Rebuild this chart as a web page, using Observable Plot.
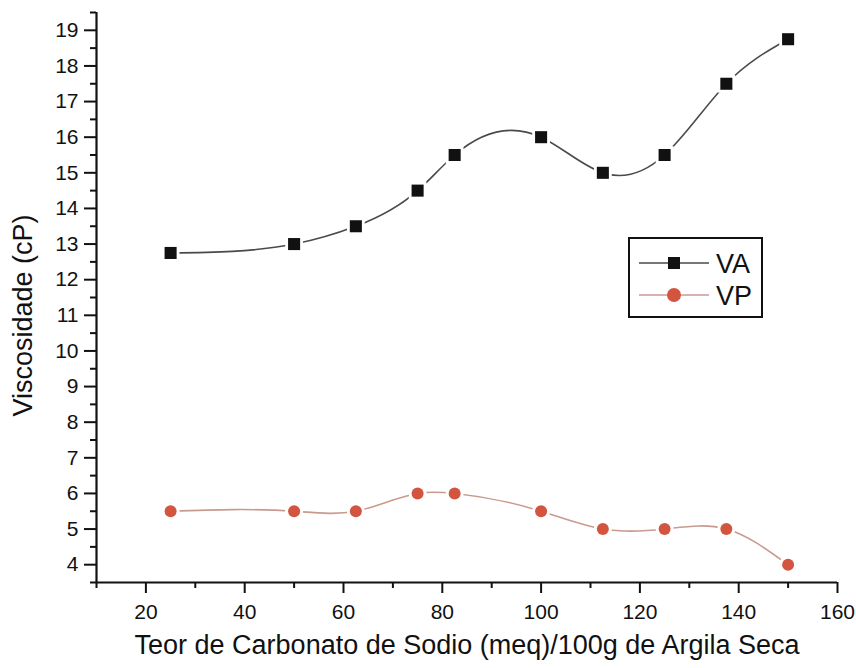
<!DOCTYPE html>
<html>
<head>
<meta charset="utf-8">
<script src="https://cdn.jsdelivr.net/npm/d3@7"></script>
<script src="https://cdn.jsdelivr.net/npm/@observablehq/plot@0.6"></script>
<style>
  html, body { margin: 0; padding: 0; background: #fff; }
  #wrap { position: relative; width: 856px; height: 668px; font-family: "Liberation Sans", Arial, sans-serif; }
  #legend { position: absolute; left: 628px; top: 237px; width: 131px; height: 77px; border: 2px solid #111; background: #fff; }
  #legend svg { display: block; }
</style>
</head>
<body>
<div id="wrap"></div>
<script>
// ---- data ----
const teor = [25, 50, 62.5, 75, 82.5, 100, 112.5, 125, 137.5, 150];
const VA = [12.75, 13, 13.5, 14.5, 15.5, 16, 15, 15.5, 17.5, 18.75];
const VP = [5.5, 5.5, 5.5, 6, 6, 5.5, 5, 5, 5, 4];
const seriesNames = ["VA", "VP"];
const xTickValues = [20, 40, 60, 80, 100, 120, 140, 160];
const xMinorValues = [10, 30, 50, 70, 90, 110, 130, 150];
const yTickValues = [4, 5, 6, 7, 8, 9, 10, 11, 12, 13, 14, 15, 16, 17, 18, 19];
const yMinorValues = [3.5, 4.5, 5.5, 6.5, 7.5, 8.5, 9.5, 10.5, 11.5, 12.5, 13.5, 14.5, 15.5, 16.5, 17.5, 18.5, 19.5];
const xLabel = "Teor de Carbonato de Sodio (meq)/100g de Argila Seca";
const yLabel = "Viscosidade (cP)";

const colVA = "#111111", lineVA = "#4a4a4a";
const colVP = "#d4553f", lineVP = "#c99a90";

const rows = teor.map((x, i) => ({x, va: VA[i], vp: VP[i]}));

// Curve factory: natural cubic spline with y as a function of x (drawn as Bézier segments)
function splineX(context) {
  let xs = [], ys = [];
  return {
    areaStart() {}, areaEnd() {},
    lineStart() { xs = []; ys = []; },
    point(x, y) { xs.push(+x); ys.push(+y); },
    lineEnd() {
      const n = xs.length;
      if (!n) return;
      context.moveTo(xs[0], ys[0]);
      if (n === 1) return;
      if (n === 2) { context.lineTo(xs[1], ys[1]); return; }
      const h = [];
      for (let i = 0; i < n - 1; i++) h.push(xs[i + 1] - xs[i]);
      const a = [], b = [], c = [], d = [];
      for (let i = 1; i < n - 1; i++) {
        a.push(h[i - 1]); b.push(2 * (h[i - 1] + h[i])); c.push(h[i]);
        d.push(6 * ((ys[i + 1] - ys[i]) / h[i] - (ys[i] - ys[i - 1]) / h[i - 1]));
      }
      const m = b.length;
      for (let i = 1; i < m; i++) { const w = a[i] / b[i - 1]; b[i] -= w * c[i - 1]; d[i] -= w * d[i - 1]; }
      const sol = new Array(m);
      sol[m - 1] = d[m - 1] / b[m - 1];
      for (let i = m - 2; i >= 0; i--) sol[i] = (d[i] - c[i] * sol[i + 1]) / b[i];
      const M = [0, ...sol, 0];
      for (let i = 0; i < n - 1; i++) {
        const hi = h[i], s = (ys[i + 1] - ys[i]) / hi;
        const d0 = s - hi * (2 * M[i] + M[i + 1]) / 6;
        const d1 = s + hi * (M[i] + 2 * M[i + 1]) / 6;
        context.bezierCurveTo(xs[i] + hi / 3, ys[i] + d0 * hi / 3, xs[i + 1] - hi / 3, ys[i + 1] - d1 * hi / 3, xs[i + 1], ys[i + 1]);
      }
    }
  };
}

const chart = Plot.plot({
  width: 856,
  height: 668,
  marginLeft: 96,
  marginRight: 19,
  marginTop: 12,
  marginBottom: 86,
  style: {fontFamily: '"Liberation Sans", Arial, sans-serif', background: "#fff", color: "#111"},
  x: {domain: [10, 160]},
  y: {domain: [3.5, 19.5]},
  marks: [
    // curves
    Plot.line(rows, {x: "x", y: "va", curve: splineX, stroke: lineVA, strokeWidth: 1.6}),
    Plot.line(rows, {x: "x", y: "vp", curve: splineX, stroke: lineVP, strokeWidth: 1.6}),
    // halos to create gaps
    Plot.dot(rows, {x: "x", y: "va", symbol: "square", r: 10, fill: "#fff"}),
    Plot.dot(rows, {x: "x", y: "vp", symbol: "circle", r: 9, fill: "#fff"}),
    // markers
    Plot.dot(rows, {x: "x", y: "va", symbol: "square", r: 6.8, fill: colVA}),
    Plot.dot(rows, {x: "x", y: "vp", symbol: "circle", r: 6, fill: colVP}),
    // axis lines
    Plot.ruleX([10], {stroke: "#111", strokeWidth: 2.2}),
    Plot.ruleY([3.5], {stroke: "#111", strokeWidth: 2.2}),
    // axes
    Plot.axisX(xTickValues, {anchor: "bottom", tickSize: 11, tickPadding: 11, fontSize: 21, strokeWidth: 2, label: null}),
    Plot.axisX(xMinorValues, {anchor: "bottom", tickSize: 6, text: null, strokeWidth: 2, label: null}),
    Plot.axisY(yTickValues, {anchor: "left", tickSize: 12, tickPadding: 6, fontSize: 21, strokeWidth: 2, label: null}),
    Plot.axisY(yMinorValues, {anchor: "left", tickSize: 6, text: null, strokeWidth: 2, label: null}),
    // axis titles
    Plot.text([xLabel], {frameAnchor: "bottom", textAnchor: "middle", dy: 71, fontSize: 27, fill: "#111"}),
    Plot.text([yLabel], {frameAnchor: "left", textAnchor: "middle", rotate: -90, dx: -73, dy: 18, fontSize: 27, fill: "#111"})
  ]
});

const wrap = document.getElementById("wrap");
wrap.appendChild(chart);

// legend
const legend = document.createElement("div");
legend.id = "legend";
const lw = 131, lh = 77;
const svg = d3.create("svg").attr("width", lw).attr("height", lh);
const items = [
  {name: seriesNames[0], line: lineVA, fill: colVA, sym: "square", y: 24},
  {name: seriesNames[1], line: lineVP, fill: colVP, sym: "circle", y: 56}
];
for (const it of items) {
  svg.append("line").attr("x1", 9).attr("x2", 79).attr("y1", it.y).attr("y2", it.y)
    .attr("stroke", it.line).attr("stroke-width", 1.6);
  if (it.sym === "square") {
    svg.append("rect").attr("x", 44 - 6).attr("y", it.y - 6).attr("width", 12).attr("height", 12).attr("fill", it.fill);
  } else {
    svg.append("circle").attr("cx", 44).attr("cy", it.y).attr("r", 7).attr("fill", it.fill);
  }
  svg.append("text").attr("x", 86).attr("y", it.y).attr("dy", "0.36em")
    .attr("font-size", 27).attr("fill", "#111")
    .attr("font-family", '"Liberation Sans", Arial, sans-serif')
    .text(it.name);
}
legend.appendChild(svg.node());
wrap.appendChild(legend);
</script>
</body>
</html>
